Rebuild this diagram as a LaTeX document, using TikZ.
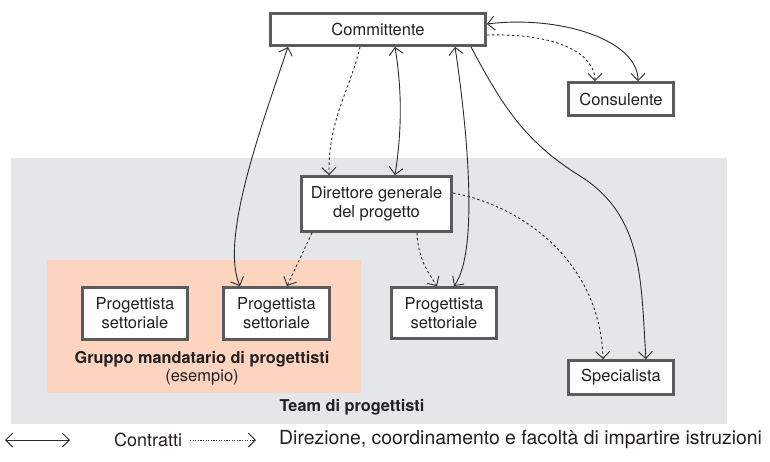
\documentclass[tikz,border=0pt]{standalone}
\usepackage{fontspec}
\setmainfont{TeX Gyre Heros}
\usetikzlibrary{arrows.meta,calc}
\definecolor{bggray}{HTML}{E5E6E8}
\definecolor{salmonbg}{HTML}{FDD4C0}
\definecolor{boxline}{HTML}{5B5B5B}
\definecolor{conn}{HTML}{2B2B2B}
\definecolor{txt}{HTML}{231F20}
\tikzset{
  tipV/.tip={Straight Barb[length=7pt,width=14pt]},
  lbl/.style={text=txt, font=\fontsize{16.5}{19}\selectfont, inner sep=0pt},
  boldlbl/.style={lbl, font=\fontsize{16.3}{19}\selectfont\bfseries},
  leglbl/.style={lbl, font=\fontsize{19.4}{22}\selectfont},
  legsmall/.style={lbl, font=\fontsize{18}{22}\selectfont},
  box/.style={lbl, draw=boxline, line width=2.8pt, fill=white, align=center},
  contr/.style={conn, line width=0.9pt, {tipV}-{tipV}},
  controne/.style={conn, line width=0.9pt, -{tipV}},
  dirline/.style={conn, line width=0.9pt, dash pattern=on 2.5pt off 2.5pt, -{tipV}},
  legdot/.style={conn, line width=0.9pt, dash pattern=on 1.2pt off 1.4pt, -{tipV}},
}
\begin{document}
\begin{tikzpicture}[x=1pt,y=1pt]
\useasboundingbox (0,0) rectangle (770,-461);
% backgrounds
\fill[bggray] (11,-158) rectangle (727,-424);
\fill[salmonbg] (47,-260) rectangle (361,-393);
% nodes
\node[box, minimum width=215pt, minimum height=32pt] (cm) at (378,-29.5) {Committente};
\node[box, minimum width=105pt, minimum height=33pt] (cons) at (621,-99) {Consulente};
\node[box, minimum width=150pt, minimum height=55pt] (dg) at (376.5,-204) {Direttore generale\\del progetto};
\node[box, minimum width=105pt, minimum height=52pt] (p1) at (135,-313.5) {Progettista\\settoriale};
\node[box, minimum width=106pt, minimum height=52pt] (p2) at (276.5,-313.5) {Progettista\\settoriale};
\node[box, minimum width=105pt, minimum height=51pt] (p3) at (444,-313) {Progettista\\settoriale};
\node[box, minimum width=105pt, minimum height=34pt] (spec) at (621,-377.5) {Specialista};
\node[boldlbl] (grp) at (202,-359) {Gruppo mandatario di progettisti};
\node[lbl] (es) at (202,-377) {(esempio)};
\node[boldlbl] (team) at (352,-407) {Team di progettisti};
% connectors
\draw[contr] ([yshift=5.5pt]cm.east) .. controls (560,-15) and (638,-40) .. ([xshift=17pt]cons.north);
\draw[dirline] ([yshift=-5.5pt]cm.east) .. controls (560,-33) and (595,-55) .. ([xshift=-26pt]cons.north);
\draw[contr] ([xshift=-90pt]cm.south) .. controls (260,-130) and (220,-240) .. ([xshift=-36.5pt]p2.north);
\draw[dirline] ([xshift=-18pt]cm.south) .. controls (350,-90) and (328,-120) .. ([xshift=-47.5pt]dg.north);
\draw[contr] ([xshift=17pt]cm.south) .. controls (402,-90) and (402,-130) .. ([xshift=18.5pt]dg.north);
\draw[contr] ([xshift=77pt]cm.south) .. controls (466,-120) and (480,-250) .. ([xshift=10pt]p3.north);
\draw[controne] ([xshift=93pt]cm.south) to[out=-62,in=148] (580,-176) to[out=-32,in=94] ([xshift=25pt]spec.north);
\draw[dirline] ([xshift=-64.5pt]dg.south) -- ([xshift=10.5pt]p2.north);
\draw[dirline] ([xshift=40.5pt]dg.south) .. controls (418,-260) and (430,-275) .. ([xshift=-7pt]p3.north);
\draw[dirline] ([yshift=11pt]dg.east) .. controls (520,-205) and (600,-260) .. ([xshift=-18pt]spec.north);
% legend
\coordinate (la) at (5,-440);
\coordinate (lb) at (70,-440);
\coordinate (lc) at (190,-440);
\coordinate (ld) at (256,-440);
\draw[contr] (la) -- (lb);
\draw[legdot] (lc) -- (ld);
\node[legsmall, anchor=west] (l1) at (114,-440) {Contratti};
\node[leglbl, anchor=west] (l2) at (279,-440) {Direzione, coordinamento e facoltà di impartire istruzioni};
\end{tikzpicture}
\end{document}
